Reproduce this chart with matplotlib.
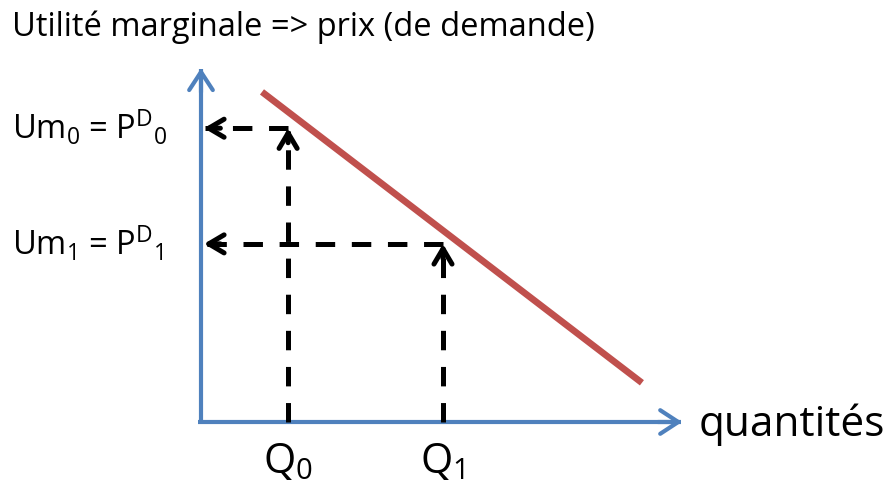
import matplotlib
matplotlib.use("Agg")
import matplotlib.pyplot as plt

plt.rcParams['font.family'] = ['Open Sans', 'DejaVu Sans']
plt.rcParams['mathtext.default'] = 'regular'
plt.rcParams['lines.scale_dashes'] = False

# Data (arbitrary units)
demand_q = [1.26, 9.11]
demand_p = [6.82, 0.81]
quantities = [1.8, 5.0]
prices = [6.07, 3.68]
q_labels = [r'$Q_0$', r'$Q_1$']
p_labels = [r'$Um_0$ = $P^D{}_0$', r'$Um_1$ = $P^D{}_1$']
x_axis_end = 9.94
y_axis_end = 7.31

BLUE = '#4F81BD'
RED = '#C0504D'

fig = plt.figure(figsize=(8.93, 4.90), dpi=100)
ax = fig.add_axes([0, 0, 1, 1])
ax.set_xlim(-4.153, 14.298)
ax.set_ylim(-1.405, 8.719)
ax.axis('off')

# axes arrows
blue_head = dict(arrowstyle='->,head_length=1.3,head_width=0.85',
                 color=BLUE, lw=3, shrinkA=0, shrinkB=0)
ax.plot([0, 0], [0, y_axis_end - 0.02], color=BLUE, lw=3, solid_capstyle='butt')
ax.plot([-0.06, x_axis_end - 0.02], [0, 0], color=BLUE, lw=3, solid_capstyle='butt')
ax.annotate('', xy=(0, y_axis_end), xytext=(0, y_axis_end - 0.5), arrowprops=blue_head)
ax.annotate('', xy=(x_axis_end, 0), xytext=(x_axis_end - 0.5, 0), arrowprops=blue_head)

# demand line
ax.plot(demand_q, demand_p, color=RED, lw=4.8, solid_capstyle='butt')

# dashed guides
black_head = dict(arrowstyle='->,head_length=1.1,head_width=0.65',
                  color='black', lw=3.6, shrinkA=0, shrinkB=0)
dash = (0, (14, 12))
for q, p in zip(quantities, prices):
    ax.plot([q, q], [0, p - 0.05], color='black', lw=3.6, ls=dash, dash_capstyle='butt')
    ax.plot([q, 0.08], [p, p], color='black', lw=3.6, ls=dash, dash_capstyle='butt')
    ax.annotate('', xy=(q, p), xytext=(q, p - 0.3), arrowprops=black_head)
    ax.annotate('', xy=(0.06, p), xytext=(0.4, p), arrowprops=black_head)

# labels
for q, lab in zip(quantities, q_labels):
    ax.text(q, -0.83, lab, ha='center', va='center', fontsize=30)
for p, lab in zip(prices, p_labels):
    ax.text(-3.9, p, lab, ha='left', va='center', fontsize=23.5)

ax.text(x_axis_end + 0.35, -0.06, 'quantités', ha='left', va='center', fontsize=30.5)
fig.text(12/893, 1 - 27/490, 'Utilité marginale => prix (de demande)',
         ha='left', va='center', fontsize=23.5)

fig.savefig('out.png', dpi=100)
